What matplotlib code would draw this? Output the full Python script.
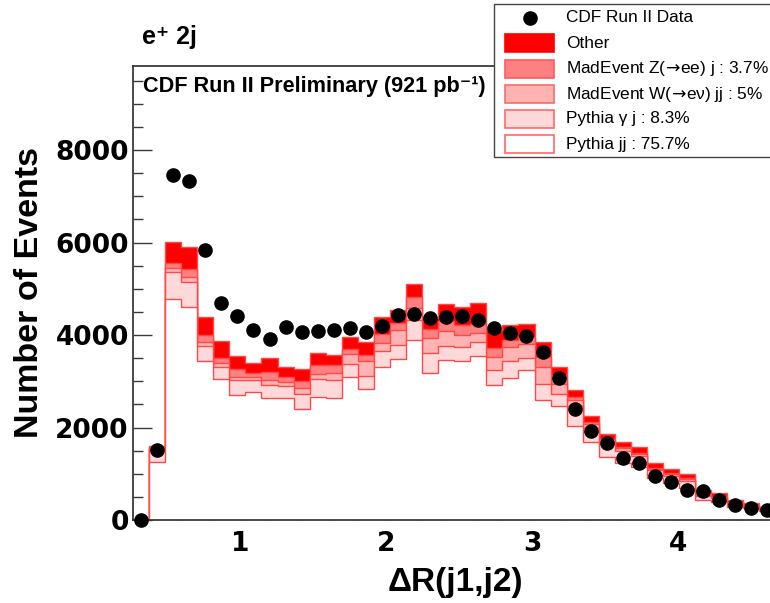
import matplotlib
matplotlib.use("Agg")
import matplotlib.pyplot as plt
import numpy as np
from matplotlib.patches import Rectangle
from matplotlib.lines import Line2D
from matplotlib.ticker import MultipleLocator, FixedLocator

# ---------------- data ----------------
bin_low = 0.265
bin_width = 0.11
n_bins = 40

data_counts = [0, 1510, 7460, 7330, 5840, 4700, 4410, 4110, 3910, 4180,
               4070, 4090, 4100, 4150, 4070, 4200, 4430, 4450, 4370, 4400,
               4410, 4320, 4150, 4050, 3980, 3640, 3070, 2400, 1930, 1665,
               1340, 1240, 960, 830, 650, 627, 432, 324, 266, 216]

pythia_jj = [0, 1260, 4780, 4600, 3445, 3050, 2700, 2776, 2645, 2630,
             2400, 2667, 2630, 3085, 2832, 3315, 3490, 3892, 3185, 3470,
             3430, 3540, 2919, 3080, 3243, 2595, 2475, 2032, 1693, 1370,
             1225, 1153, 900, 793, 700, 430, 390, 290, 250, 190]
pythia_gj = [0, 270, 575, 555, 317, 265, 327, 251, 274, 267,
             324, 375, 397, 288, 282, 339, 300, 432, 433, 300,
             303, 310, 326, 365, 253, 345, 255, 433, 307, 280,
             275, 227, 180, 167, 150, 90, 80, 55, 50, 40]
madevent_w = [0, 30, 85, 105, 98, 85, 72, 72, 108, 93,
              123, 108, 143, 216, 331, 166, 318, 271, 310, 316,
              277, 200, 287, 303, 304, 380, 220, 135, 80, 60,
              60, 40, 30, 30, 30, 25, 20, 15, 12, 10]
madevent_z = [0, 20, 110, 160, 140, 96, 158, 86, 180, 95,
              165, 201, 181, 101, 122, 202, 144, 234, 195, 224,
              206, 200, 198, 144, 150, 200, 185, 67, 46, 35,
              25, 21, 21, 19, 20, 15, 10, 10, 8, 5]
other_bkg = [0, 20, 470, 490, 396, 374, 289, 215, 303, 215,
             253, 267, 216, 260, 288, 374, 293, 274, 237, 360,
             384, 450, 390, 324, 288, 335, 180, 143, 122, 115,
             108, 130, 109, 86, 95, 80, 80, 62, 54, 45]

legend_labels = ["CDF Run II Data", "Other",
                 "MadEvent Z($\\!\\rightarrow\\!$ee) j : 3.7%",
                 "MadEvent W($\\!\\rightarrow\\!$e\u03bd) jj : 5%",
                 "Pythia \u03b3 j : 8.3%",
                 "Pythia jj : 75.7%"]
x_ticks = [1, 2, 3, 4]
y_ticks = [0, 2000, 4000, 6000, 8000]

# ---------------- style ----------------
W_PX, H_PX = 770, 603
fig = plt.figure(figsize=(W_PX / 100, H_PX / 100), dpi=100)

sans = ["Liberation Sans", "DejaVu Sans"]
edge_red = "#ff4848"
fill_colors = ["#ffffff", "#ffd9d9", "#ffb3b3", "#ff8080", "#ff0000"]
spine_col = "#3a3a3a"

ax_left, ax_right, ax_top, ax_bottom = 133, 775.4, 66, 520
ax = fig.add_axes([ax_left / W_PX, 1 - ax_bottom / H_PX,
                   (ax_right - ax_left) / W_PX, (ax_bottom - ax_top) / H_PX])

edges = bin_low + bin_width * np.arange(n_bins + 1)
centers = 0.5 * (edges[:-1] + edges[1:])

components = np.array([pythia_jj, pythia_gj, madevent_w, madevent_z, other_bkg], dtype=float)
levels = np.cumsum(components, axis=0)

for i in reversed(range(len(components))):
    ax.stairs(levels[i], edges, baseline=0, fill=True,
              facecolor=fill_colors[i], edgecolor=edge_red, linewidth=1.0,
              zorder=2 + (4 - i) * 0.01)

ax.plot(centers, data_counts, "o", color="black", markersize=9.5,
        clip_on=False, zorder=5)

ax.set_xlim(edges[0], edges[-1])
ax.set_ylim(0, 9820)

ax.xaxis.set_major_locator(FixedLocator(x_ticks))
ax.xaxis.set_minor_locator(MultipleLocator(0.2))
ax.yaxis.set_major_locator(FixedLocator(y_ticks))
ax.yaxis.set_minor_locator(MultipleLocator(500))
ax.set_xticklabels([str(t) for t in x_ticks])
ax.set_yticklabels([str(t) for t in y_ticks])

ax.tick_params(axis="x", which="major", direction="in", length=10, width=1.0,
               color=spine_col, pad=8, labelsize=19)
ax.tick_params(axis="x", which="minor", direction="in", length=5, width=1.0,
               color=spine_col)
ax.tick_params(axis="y", which="major", direction="in", length=13.5, width=1.0,
               color=spine_col, pad=3, labelsize=19)
ax.tick_params(axis="y", which="minor", direction="in", length=7, width=1.0,
               color=spine_col)
for lab in ax.get_xticklabels() + ax.get_yticklabels():
    lab.set_fontfamily("DejaVu Sans")
    lab.set_fontweight("bold")

for s in ["left", "bottom", "top"]:
    ax.spines[s].set_color(spine_col)
    ax.spines[s].set_linewidth(1.3)
ax.spines["right"].set_visible(False)

# axis titles
fig.text(30 / W_PX, 1 - 292 / H_PX, "Number of Events", rotation=90,
         ha="center", va="center", fontsize=24.5, fontweight="bold", family=sans)
fig.text(455 / W_PX, 1 - 582 / H_PX, "\u0394R(j1,j2)", ha="center", va="center",
         fontsize=24, fontweight="bold", family=sans)

# header texts
fig.text(142 / W_PX, 1 - 44 / H_PX, "e\u207a 2j", ha="left", va="baseline",
         fontsize=18, fontweight="bold", family=sans)
fig.text(143 / W_PX, 1 - 92 / H_PX, "CDF Run II Preliminary (921 pb\u207b\u00b9)",
         ha="left", va="baseline", fontsize=15.6, fontweight="bold", family=sans)

# ---------------- legend (drawn in pixel overlay) ----------------
lax = fig.add_axes([0, 0, 1, 1], zorder=10)
lax.set_xlim(0, W_PX)
lax.set_ylim(H_PX, 0)
lax.axis("off")

lax.add_patch(Rectangle((494, 4), 300, 153, facecolor="white", edgecolor="#444444",
                        linewidth=1.0))
row_y = [18, 43, 69, 94, 119, 144]
lax.add_line(Line2D([529.5], [row_y[0]], marker="o", color="black", markersize=9.5,
                    linestyle="none"))
legend_fills = ["#ff0000", "#ff8080", "#ffb3b3", "#ffd9d9", "#ffffff"]
legend_edges = ["#ff0000", "#ff5a5a", "#ff6a6a", "#ff6a6a", "#ff6a6a"]
for j in range(5):
    y = row_y[j + 1]
    lax.add_patch(Rectangle((505, y - 9), 49, 18, facecolor=legend_fills[j],
                            edgecolor=legend_edges[j], linewidth=1.2))
for j, lab in enumerate(legend_labels):
    lax.text(566, row_y[j], lab, ha="left", va="center", fontsize=12.4, family=sans)

fig.savefig("out.png", dpi=100)
